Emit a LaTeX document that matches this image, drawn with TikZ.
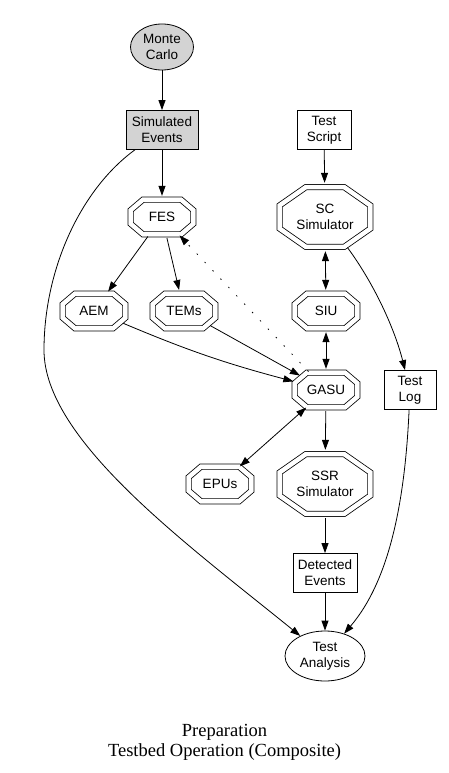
\documentclass[tikz,border=0pt]{standalone}
\usepackage{fontspec}
\setmainfont{Liberation Sans}
\newfontfamily\captfont{Liberation Serif}
\usetikzlibrary{arrows.meta,shapes.geometric,calc}
\definecolor{gvgray}{RGB}{211,211,211}

% double octagon round a node: name, half width, half height, half top edge, half side
\newcommand{\dbloct}[5]{%
  \draw[double, double distance=4.5pt]
    ($(#1)+(-#4,-#3)$) -- ($(#1)+(#4,-#3)$) -- ($(#1)+(#2,-#5)$) -- ($(#1)+(#2,#5)$)
    -- ($(#1)+(#4,#3)$) -- ($(#1)+(-#4,#3)$) -- ($(#1)+(-#2,#5)$) -- ($(#1)+(-#2,-#5)$)
    -- cycle;}

\begin{document}
\begin{tikzpicture}[
  x=1pt, y=-1pt,
  line width=0.8pt,
  every node/.style={font=\fontsize{13.5}{16}\selectfont, align=center, inner sep=0pt},
  box/.style={rectangle, draw, minimum height=39pt},
  oval/.style={ellipse, draw},
  octa/.style={ellipse, minimum width=70.7pt, minimum height=41.6pt},
  bigocta/.style={ellipse, minimum width=100pt, minimum height=67.6pt},
  >={Triangle[length=10pt,width=7pt]}
]
  \useasboundingbox (0,0) rectangle (448,773);

  % Inputs
  \node[oval, fill=gvgray, minimum width=63pt, minimum height=46pt] (mc) at (162,47) {Monte\\Carlo};
  \node[box, fill=gvgray, minimum width=72pt] (simev) at (162,130) {Simulated\\Events};
  \node[box, minimum width=54pt] (tscript) at (324,130) {Test\\Script};

  % Simulators and boards
  \node[octa] (fes) at (162,217) {FES};
  \node[bigocta] (scsim) at (325,217) {SC\\Simulator};
  \node[octa] (aem) at (94,311) {AEM};
  \node[octa] (tems) at (184,311) {TEMs};
  \node[octa] (siu) at (326,311) {SIU};
  \node[octa] (gasu) at (326,390) {GASU};
  \node[box, minimum width=52pt] (tlog) at (410,390) {Test\\Log};
  \node[octa] (epus) at (220,484) {EPUs};
  \node[bigocta] (ssr) at (325,484) {SSR\\Simulator};

  \foreach \n in {fes,aem,tems,siu,gasu,epus}
    \dbloct{\n}{31.35}{17.35}{19}{6.8};
  \foreach \n in {scsim,ssr}
    \dbloct{\n}{45.35}{29.85}{19.2}{11.6};

  % Outputs
  \node[box, minimum width=64pt] (detev) at (325,573) {Detected\\Events};
  \node[oval, minimum width=80pt, minimum height=50pt] (ta) at (325,656) {Test\\Analysis};

  % Edges
  \draw[->] (mc) -- (simev);
  \draw[->] (simev) -- (fes);
  \draw[->] (simev) .. controls (80,190) and (44,270) .. (44,350)
                    .. controls (44,440) and (187,544) .. (ta);
  \draw[->] (tscript) -- (scsim);
  \draw[->] (fes) -- (aem);
  \draw[->] (fes) -- (tems);
  \draw[->, dash pattern=on 1.5pt off 10pt] (gasu) -- (fes);
  \draw[<->] (scsim) -- (siu);
  \draw[<->] (siu) -- (gasu);
  \draw[->] (scsim) .. controls (375,285) and (395,330) .. (tlog);
  \draw[->] (aem) to[bend right=4] (gasu);
  \draw[->] (tems) -- (gasu);
  \draw[<->] (gasu) -- (epus);
  \draw[->] (gasu) -- (ssr);
  \draw[->] (ssr) -- (detev);
  \draw[->] (detev) -- (ta);
  \draw[->] (tlog) .. controls (405,500) and (390,580) .. (ta);

  % Caption
  \node[font=\captfont\fontsize{18.5}{19.5}\selectfont] (capt) at (224.5,742.5)
    {Preparation\\Testbed Operation (Composite)};
\end{tikzpicture}
\end{document}
